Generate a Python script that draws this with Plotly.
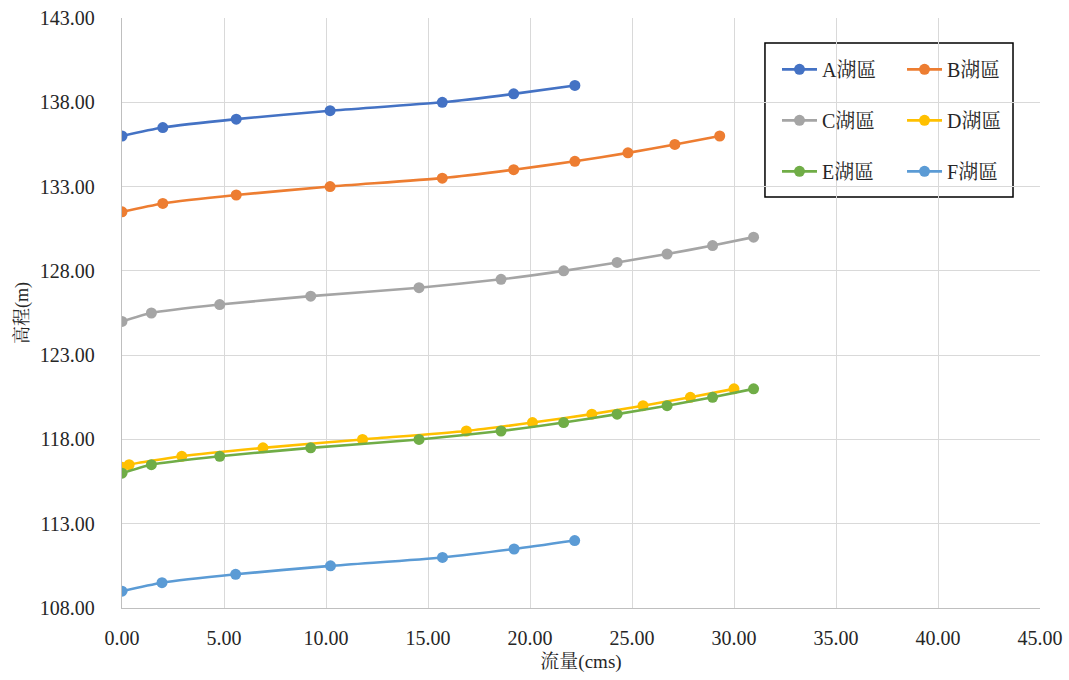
import plotly.graph_objects as go

names = ["A湖區", "B湖區", "C湖區", "D湖區", "E湖區", "F湖區"]
colors = ["#4472C4", "#ED7D31", "#A5A5A5", "#FFC000", "#70AD47", "#5B9BD5"]

a_x = [0, 2.0, 5.6, 10.2, 15.7, 19.2, 22.2]
a_y = [136.0, 136.5, 137.0, 137.5, 138.0, 138.5, 139.0]

b_x = [0, 2.0, 5.6, 10.2, 15.7, 19.2, 22.2, 24.8, 27.1, 29.3]
b_y = [131.5, 132.0, 132.5, 133.0, 133.5, 134.0, 134.5, 135.0, 135.5, 136.0]

c_x = [0, 1.44, 4.79, 9.25, 14.56, 18.58, 21.65, 24.27, 26.72, 28.95, 30.96]
c_y = [125.0, 125.5, 126.0, 126.5, 127.0, 127.5, 128.0, 128.5, 129.0, 129.5, 130.0]

d_x = [0, 0.35, 2.93, 6.91, 11.79, 16.88, 20.12, 23.03, 25.54, 27.86, 30.0]
d_y = [116.35, 116.5, 117.0, 117.5, 118.0, 118.5, 119.0, 119.5, 120.0, 120.5, 121.0]

e_x = [0, 1.44, 4.79, 9.25, 14.56, 18.58, 21.65, 24.27, 26.72, 28.95, 30.96]
e_y = [116.0, 116.5, 117.0, 117.5, 118.0, 118.5, 119.0, 119.5, 120.0, 120.5, 121.0]

f_x = [0, 1.96, 5.57, 10.22, 15.71, 19.22, 22.19]
f_y = [109.0, 109.5, 110.0, 110.5, 111.0, 111.5, 112.0]

x_ticks = [0, 5, 10, 15, 20, 25, 30, 35, 40, 45]
y_ticks = [108, 113, 118, 123, 128, 133, 138, 143]

series = [(a_x, a_y), (b_x, b_y), (c_x, c_y), (d_x, d_y), (e_x, e_y), (f_x, f_y)]
legend_ids = ["legend", "legend2", "legend", "legend2", "legend", "legend2"]

FONT = "Liberation Serif, Times New Roman, Noto Serif CJK TC, Noto Sans CJK TC, serif"
TXT = "#262626"

fig = go.Figure()
for i, (xs, ys) in enumerate(series):
    fig.add_trace(go.Scatter(
        x=xs, y=ys, name=names[i], mode="lines+markers",
        line=dict(color=colors[i], width=2.6, shape="spline", smoothing=0.6),
        marker=dict(color=colors[i], size=11),
        legend=legend_ids[i], legendgroup=names[i],
    ))

legend_common = dict(
    font=dict(family=FONT, size=20, color=TXT),
    bgcolor="rgba(0,0,0,0)", borderwidth=0,
    tracegroupgap=22, itemwidth=35,
    xanchor="left", yanchor="top",
)

fig.update_layout(
    width=1069, height=680,
    margin=dict(l=122, r=29, t=18, b=72, autoexpand=False),
    paper_bgcolor="white", plot_bgcolor="white",
    font=dict(family=FONT, size=20, color=TXT),
    showlegend=True,
    legend=dict(x=0.7135, y=0.946, **legend_common),
    legend2=dict(x=0.8497, y=0.946, **legend_common),
    xaxis=dict(
        range=[0, 45], tickvals=x_ticks, tickformat=".2f",
        showgrid=True, gridcolor="#d9d9d9", gridwidth=1.3,
        showline=True, linecolor="#bfbfbf", linewidth=1.3,
        zeroline=False, ticks="", ticklabelstandoff=12, automargin=False,
        title=dict(text="流量(cms)", font=dict(family=FONT, size=19, color=TXT), standoff=6),
        tickfont=dict(family=FONT, size=20, color=TXT),
    ),
    yaxis=dict(
        range=[108, 143], tickvals=y_ticks, tickformat=".2f",
        showgrid=True, gridcolor="#d9d9d9", gridwidth=1.3,
        showline=True, linecolor="#bfbfbf", linewidth=1.3,
        zeroline=False, ticks="", ticklabelstandoff=22, automargin=False,
        title=dict(text="高程(m)", font=dict(family=FONT, size=18, color=TXT), standoff=6),
        tickfont=dict(family=FONT, size=20, color=TXT),
    ),
)

fig.add_shape(type="rect", xref="paper", yref="paper",
              x0=0.7004, x1=0.9706, y0=0.6966, y1=0.9576,
              line=dict(color="black", width=1.5), fillcolor="white", layer="below")

fig.write_html("out.html", config={"displayModeBar": False},
               post_script="document.body.style.margin='0';")
